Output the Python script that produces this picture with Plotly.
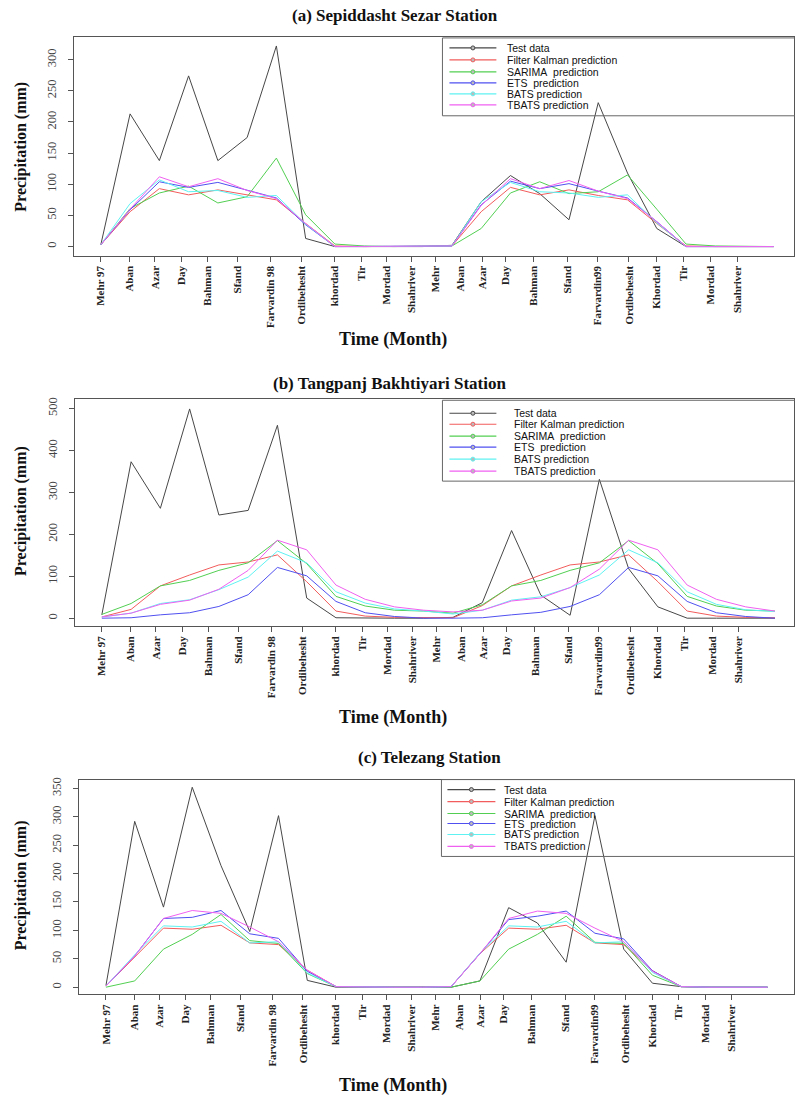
import plotly.graph_objects as go

W, H = 795, 1098

# ---------------- data ----------------
months = ["Mehr 97", "Aban", "Azar", "Day", "Bahman", "Sfand", "Farvardin 98", "Ordibehesht",
          "khordad", "Tir", "Mordad", "Shahriver", "Mehr", "Aban", "Azar", "Day", "Bahman",
          "Sfand", "Farvardin99", "Ordibehesht", "Khordad", "Tir", "Mordad", "Shahriver"]
# tick label positions (in month-index units) as placed on the original axis
tick_pos = [0, 0.98, 1.85, 2.75, 3.63, 4.68, 5.80, 6.85, 7.98, 8.92, 9.76, 10.62,
            11.45, 12.28, 13.03, 13.83, 14.80, 15.96, 16.97, 18.05, 19.00, 19.90, 20.85, 21.75]
month_index = list(range(24))

series_names = ["Test data", "Filter Kalman prediction", "SARIMA\u00a0 prediction",
                "ETS\u00a0 prediction", "BATS prediction", "TBATS prediction"]

# (a) Sepiddasht Sezar Station
a_test   = [3, 213, 138, 274, 138, 175, 322, 13, 0, 0, 0, 0, 2, 72, 114, 85, 43, 231, 118, 29, 0, 0, 0, 0]
a_kalman = [3, 56, 93, 83, 91, 83, 75, 37, 1, 0, 0, 0, 1, 56, 95, 83, 91, 82, 75, 37, 1, 0, 0, 0]
a_sarima = [3, 61, 86, 97, 70, 80, 142, 51, 4, 1, 0, 0, 1, 29, 86, 104, 85, 88, 115, 60, 4, 1, 0, 0]
a_ets    = [3, 59, 104, 95, 103, 90, 78, 35, 0, 0, 0, 0, 1, 67, 105, 93, 101, 89, 78, 40, 0, 0, 0, 0]
a_bats   = [3, 69, 107, 88, 90, 79, 82, 36, 0, 0, 0, 0, 1, 72, 103, 88, 86, 79, 83, 38, 0, 0, 0, 0]
a_tbats  = [3, 60, 112, 96, 109, 90, 77, 37, 0, 0, 0, 0, 1, 66, 109, 93, 106, 89, 77, 40, 0, 0, 0, 0]

# (b) Tangpanj Bakhtiyari Station
b_test   = [8, 373, 262, 499, 246, 257, 460, 48, 1, 0, 0, 0, 2, 37, 209, 55, 7, 331, 118, 27, 0, 0, 0, 0]
b_kalman = [3, 21, 77, 103, 127, 134, 151, 87, 17, 5, 2, 1, 1, 30, 77, 103, 127, 134, 151, 87, 17, 5, 2, 1]
b_sarima = [9, 35, 77, 90, 114, 132, 185, 130, 52, 29, 19, 17, 12, 32, 77, 90, 114, 132, 185, 130, 52, 29, 19, 17]
b_ets    = [0, 1, 8, 13, 28, 56, 121, 101, 40, 13, 4, 0, 0, 1, 8, 14, 28, 56, 121, 101, 40, 13, 4, 0]
b_bats   = [3, 12, 35, 44, 68, 98, 160, 132, 63, 36, 22, 17, 10, 19, 43, 51, 73, 103, 163, 132, 63, 33, 20, 16]
b_tbats  = [3, 12, 33, 43, 69, 114, 186, 163, 79, 45, 27, 19, 15, 19, 41, 48, 73, 117, 186, 163, 79, 45, 27, 17]

# (c) Telezang Station
c_test   = [3, 292, 141, 352, 214, 98, 302, 12, 0, 0, 0, 0, 0, 11, 140, 113, 44, 302, 67, 7, 1, 0, 0, 0]
c_kalman = [2, 53, 104, 102, 109, 78, 75, 30, 1, 0, 0, 0, 1, 59, 104, 102, 109, 78, 75, 29, 1, 0, 0, 0]
c_sarima = [0, 11, 67, 93, 128, 82, 77, 24, 1, 0, 0, 0, 0, 11, 67, 93, 125, 79, 77, 21, 1, 0, 0, 0]
c_ets    = [2, 55, 121, 123, 135, 94, 86, 28, 1, 0, 0, 0, 1, 59, 119, 125, 134, 95, 85, 29, 1, 0, 0, 0]
c_bats   = [2, 57, 108, 106, 116, 78, 80, 25, 1, 0, 0, 0, 1, 60, 108, 106, 116, 78, 80, 26, 1, 0, 0, 0]
c_tbats  = [2, 55, 121, 135, 130, 106, 80, 30, 1, 0, 0, 0, 1, 59, 121, 134, 130, 104, 80, 28, 1, 0, 0, 0]

# ---------------- styling ----------------
colors = ["#474747", "#f25c5c", "#52cf52", "#5050f0", "#5ff2f2", "#f060f0"]
SERIF = "Liberation Serif"
SANS = "Liberation Sans"
AXC = "#555555"


def px(x):
    return x / W


def py(y):
    return 1 - y / H


panels = [
    dict(series=[a_test, a_kalman, a_sarima, a_ets, a_bats, a_tbats],
         title="(a) Sepiddasht Sezar Station", title_xy=(395, 14),
         box=(74, 35, 795, 254), xr=(-0.92, 23.69), yr=(-14.4, 336.5),
         ytv=[0, 50, 100, 150, 200, 250, 300], xlab_y=338, ylab_y=145,
         leg_box=(443, 36, 800, 114), leg_rows=[46, 58, 70, 81, 92, 103],
         leg_line=(450, 497), leg_text=506),
    dict(series=[b_test, b_kalman, b_sarima, b_ets, b_bats, b_tbats],
         title="(b) Tangpanj Bakhtiyari Station", title_xy=(390, 382),
         box=(75, 398, 795, 625), xr=(-0.92, 23.65), yr=(-18.3, 522),
         ytv=[0, 100, 200, 300, 400, 500], xlab_y=717, ylab_y=510,
         leg_box=(443, 399, 800, 480), leg_rows=[412, 423, 435, 446, 458, 470],
         leg_line=(450, 497), leg_text=513),
    dict(series=[c_test, c_kalman, c_sarima, c_ets, c_bats, c_tbats],
         title="(c) Telezang Station", title_xy=(430, 757),
         box=(79, 779, 795, 994), xr=(-0.94, 23.92), yr=(-12.3, 365.5),
         ytv=[0, 50, 100, 150, 200, 250, 300, 350], xlab_y=1085, ylab_y=885,
         leg_box=(442, 779, 800, 856), leg_rows=[789, 801, 813, 823, 834, 846],
         leg_line=(448, 496), leg_text=503),
]

fig = go.Figure()
shapes = []
annotations = []
layout_axes = {}

for k, p in enumerate(panels, start=1):
    xa = "x" if k == 1 else f"x{k}"
    ya = "y" if k == 1 else f"y{k}"
    for vals, col, name in zip(p["series"], colors, series_names):
        fig.add_trace(go.Scatter(x=month_index, y=vals, mode="lines", name=name,
                                 line=dict(color=col, width=1), xaxis=xa, yaxis=ya,
                                 showlegend=False, hoverinfo="skip"))
    x0, y0, x1, y1 = p["box"]
    layout_axes["xaxis" if k == 1 else f"xaxis{k}"] = dict(
        domain=[px(x0), px(x1)], anchor=ya, range=list(p["xr"]),
        showgrid=False, zeroline=False, showline=True, mirror=True,
        linecolor=AXC, linewidth=1, ticks="outside", ticklen=5, tickcolor=AXC,
        tickmode="array", tickvals=tick_pos, ticktext=months, tickangle=-90,
        tickfont=dict(family=SERIF, size=11, color="#222222", weight="bold"))
    layout_axes["yaxis" if k == 1 else f"yaxis{k}"] = dict(
        domain=[py(y1), py(y0)], anchor=xa, range=list(p["yr"]),
        showgrid=False, zeroline=False, showline=True, mirror=True,
        linecolor=AXC, linewidth=1, ticks="outside", ticklen=5, tickcolor=AXC,
        tickmode="array", tickvals=p["ytv"], tickangle=-90, ticklabelstandoff=7,
        tickfont=dict(family=SERIF, size=12.5, color="#444444"))

    # titles
    annotations.append(dict(x=px(p["title_xy"][0]), y=py(p["title_xy"][1]), xref="paper", yref="paper",
                            text="<b>" + p["title"] + "</b>", showarrow=False,
                            xanchor="center", yanchor="middle",
                            font=dict(family=SERIF, size=17, color="#111111")))
    annotations.append(dict(x=px(393), y=py(p["xlab_y"]), xref="paper", yref="paper",
                            text="<b>Time (Month)</b>", showarrow=False,
                            xanchor="center", yanchor="middle",
                            font=dict(family=SERIF, size=18, color="#111111")))
    annotations.append(dict(x=px(21), y=py(p["ylab_y"]), xref="paper", yref="paper",
                            text="<b>Precipitation (mm)</b>", showarrow=False, textangle=-90,
                            xanchor="center", yanchor="middle",
                            font=dict(family=SERIF, size=16, color="#111111")))

    # legend box
    lx0, ly0, lx1, ly1 = p["leg_box"]
    shapes.append(dict(type="rect", xref="paper", yref="paper",
                       x0=px(lx0), x1=px(lx1), y0=py(ly1), y1=py(ly0),
                       line=dict(color="#666666", width=1), fillcolor="rgba(0,0,0,0)"))
    sx0, sx1 = p["leg_line"]
    cx = (sx0 + sx1) / 2
    for ry, col, name in zip(p["leg_rows"], colors, series_names):
        shapes.append(dict(type="line", xref="paper", yref="paper",
                           x0=px(sx0), x1=px(sx1), y0=py(ry), y1=py(ry),
                           line=dict(color=col, width=1.2)))
        shapes.append(dict(type="circle", xref="paper", yref="paper",
                           x0=px(cx - 2), x1=px(cx + 2), y0=py(ry + 2), y1=py(ry - 2),
                           line=dict(color=col, width=1), fillcolor="#bbbbbb"))
        annotations.append(dict(x=px(p["leg_text"]), y=py(ry), xref="paper", yref="paper",
                                text=name, showarrow=False, xanchor="left", yanchor="middle",
                                font=dict(family=SANS, size=10.5, color="#111111")))

fig.update_layout(
    width=W, height=H, margin=dict(l=0, r=0, t=0, b=0),
    paper_bgcolor="white", plot_bgcolor="white", showlegend=False,
    shapes=shapes, annotations=annotations, **layout_axes)

fig.write_html("out.html", config={"displayModeBar": False},
               post_script="document.body.style.margin='0px';")
